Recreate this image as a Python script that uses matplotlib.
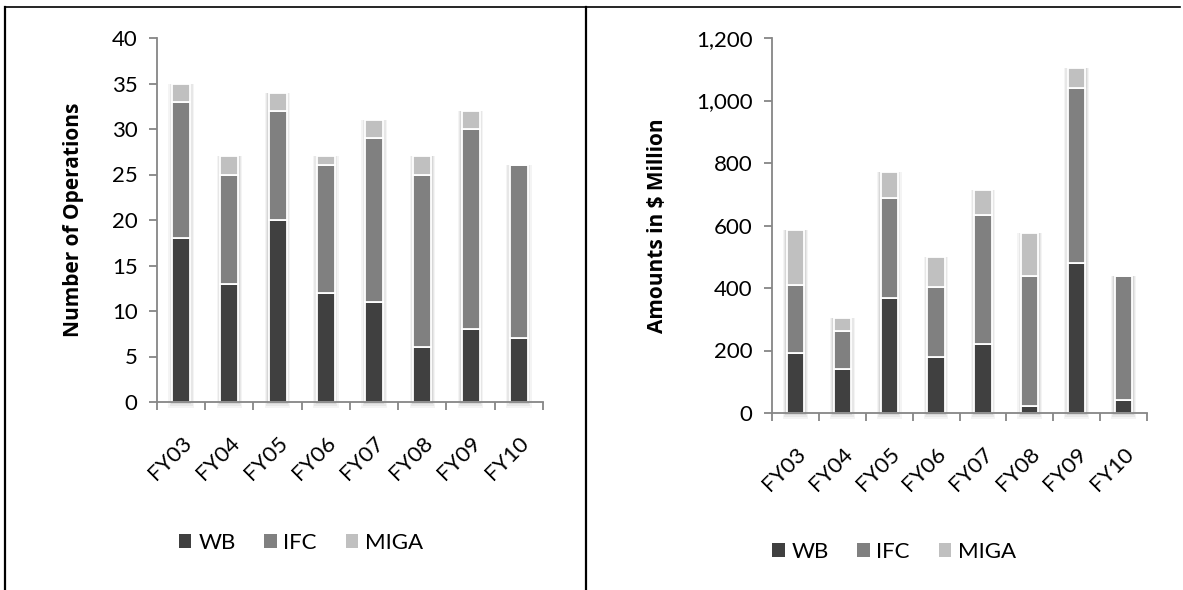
import matplotlib
matplotlib.use("Agg")
import matplotlib.pyplot as plt
import numpy as np
from matplotlib.lines import Line2D
from matplotlib.patches import Patch
from matplotlib.ticker import FuncFormatter

plt.rcParams['font.family'] = ['Lato', 'DejaVu Sans']

categories = ["FY03", "FY04", "FY05", "FY06", "FY07", "FY08", "FY09", "FY10"]
series_names = ["WB", "IFC", "MIGA"]

ops_wb = [18, 13, 20, 12, 11, 6, 8, 7]
ops_ifc = [15, 12, 12, 14, 18, 19, 22, 19]
ops_miga = [2, 2, 2, 1, 2, 2, 2, 0]

amt_wb = [191, 141, 367, 178, 221, 24, 481, 42]
amt_ifc = [219, 122, 320, 226, 413, 416, 558, 396]
amt_miga = [176, 40, 83, 96, 80, 135, 64, 0]

colors = ["#404040", "#808080", "#c0c0c0"]
spine_col = "#868686"

W, H = 1183, 590
fig = plt.figure(figsize=(W / 100, H / 100), dpi=100)

FS = 16


def px_axes(x0, y0, x1, y1):
    return fig.add_axes([x0 / W, (H - y1) / H, (x1 - x0) / W, (y1 - y0) / H])


def draw(ax, series, ymax, ystep, ylabel, fmt=None):
    x = np.arange(len(categories))
    w = 0.37
    totals = np.sum(np.array(series), axis=0)
    pad = ymax * 0.006
    # soft glow shadow behind each stack
    for extra, alpha in [(0.16, 0.10), (0.11, 0.14), (0.06, 0.20)]:
        ax.bar(x, totals + pad * extra / 0.06, width=w + extra,
               bottom=-pad * extra / 0.06, color="#9a9a9a", alpha=alpha,
               edgecolor="none", zorder=1, clip_on=False)
    bottom = np.zeros(len(categories))
    handles = []
    for vals, col, name in zip(series, colors, series_names):
        vals = np.array(vals, dtype=float)
        ax.bar(x, vals, width=w, bottom=bottom, color=col, edgecolor="white",
               linewidth=1.3, zorder=2, label=name)
        bottom += vals
        handles.append(Patch(facecolor=col, edgecolor="none", label=name))
    ax.set_xlim(-0.5, len(categories) - 0.5)
    ax.set_ylim(0, ymax)
    ax.set_yticks(np.arange(0, ymax + ystep / 2, ystep))
    if fmt:
        ax.yaxis.set_major_formatter(FuncFormatter(fmt))
    ax.set_xticks(np.arange(-0.5, len(categories), 1.0))
    ax.set_xticklabels([])
    ax.set_xticks(x, minor=True)
    ax.set_xticklabels(categories, minor=True, rotation=45, ha="right",
                       rotation_mode="anchor", fontsize=FS)
    ax.tick_params(axis="x", which="minor", length=0, pad=22)
    ax.tick_params(axis="x", which="major", length=6, width=1.3, color=spine_col, direction="out")
    ax.tick_params(axis="y", length=6, width=1.3, color=spine_col, direction="out",
                   labelsize=FS, pad=8)
    for s in ["top", "right"]:
        ax.spines[s].set_visible(False)
    for s in ["left", "bottom"]:
        ax.spines[s].set_color(spine_col)
        ax.spines[s].set_linewidth(1.3)
        ax.spines[s].set_zorder(3)
    ax.set_ylabel(ylabel, fontsize=15, fontweight="bold", labelpad=20,
                  family=["Open Sans", "DejaVu Sans"])
    return handles


ax1 = px_axes(157, 38, 543, 402)
h1 = draw(ax1, [ops_wb, ops_ifc, ops_miga], 40, 5, "Number of Operations")
ax2 = px_axes(772, 38, 1147, 413)
h2 = draw(ax2, [amt_wb, amt_ifc, amt_miga], 1200, 200, "Amounts in \\$ Million",
          fmt=lambda v, p: f"{int(v):,}")

leg_kw = dict(ncol=3, frameon=False, fontsize=FS, handlelength=0.55, handleheight=0.55,
              handletextpad=0.3, columnspacing=1.3, loc="center")
fig.legend(handles=h1, bbox_to_anchor=(301 / W, 1 - 543 / H), **leg_kw)
fig.legend(handles=h2, bbox_to_anchor=(894 / W, 1 - 552 / H), **leg_kw)

# table borders
fig.add_artist(Line2D([5 / W, 1180 / W], [1 - 7 / H, 1 - 7 / H], color="black", linewidth=1.2))
fig.add_artist(Line2D([5 / W, 5 / W], [1 - 7 / H, 0], color="black", linewidth=1.6))
fig.add_artist(Line2D([586 / W, 586 / W], [1 - 7 / H, 0], color="black", linewidth=1.6))

fig.savefig("out.png", dpi=100, facecolor="white")
